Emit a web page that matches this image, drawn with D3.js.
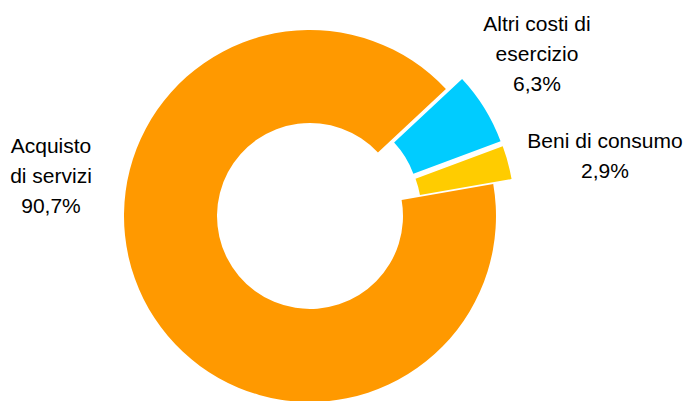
<!DOCTYPE html>
<html>
<head>
<meta charset="utf-8">
<script src="https://cdn.jsdelivr.net/npm/d3@7"></script>
<style>
  html, body { margin: 0; padding: 0; background: #fff; }
  svg { display: block; }
  text { font-family: "Liberation Sans", Arial, sans-serif; fill: #000; }
</style>
</head>
<body>
<div id="chart"></div>
<script>
const categories = ['Acquisto di servizi', 'Altri costi di esercizio', 'Beni di consumo'];
const values = [90.7, 6.3, 2.9];
const colors = ['#FF9900', '#00CCFF', '#FFCC00'];
const labelLines = [
  ['Acquisto', 'di servizi', '90,7%'],
  ['Altri costi di', 'esercizio', '6,3%'],
  ['Beni di consumo', '2,9%']
];
const exploded = [false, true, true];

const width = 685, height = 401;
const cx = 310, cy = 216;
const outerR = 186, innerR = 93;
const explode = 19;
// label anchor points (centre x, first baseline y)
const labelAnchor = [[51, 153], [537, 31], [605, 148]];
const lineH = 30;

const svg = d3.select('#chart').append('svg')
  .attr('width', width).attr('height', height);

const pie = d3.pie().sort(null).value((d) => d)
  .startAngle(80.1 * Math.PI / 180)
  .endAngle(80.1 * Math.PI / 180 + 2 * Math.PI);
const arc = d3.arc().innerRadius(innerR).outerRadius(outerR);

const g = svg.append('g').attr('transform', `translate(${cx},${cy})`);

pie(values).forEach((a, i) => {
  const mid = (a.startAngle + a.endAngle) / 2;
  const off = exploded[i] ? explode : 0;
  g.append('path')
    .attr('d', arc(a))
    .attr('transform', `translate(${off * Math.sin(mid)},${-off * Math.cos(mid)})`)
    .attr('fill', colors[i]);
});

labelLines.forEach((lines, i) => {
  const t = svg.append('text')
    .attr('text-anchor', 'middle')
    .attr('font-size', 21);
  lines.forEach((ln, j) => {
    t.append('tspan')
      .attr('x', labelAnchor[i][0])
      .attr('y', labelAnchor[i][1] + j * lineH)
      .text(ln);
  });
});
</script>
</body>
</html>
